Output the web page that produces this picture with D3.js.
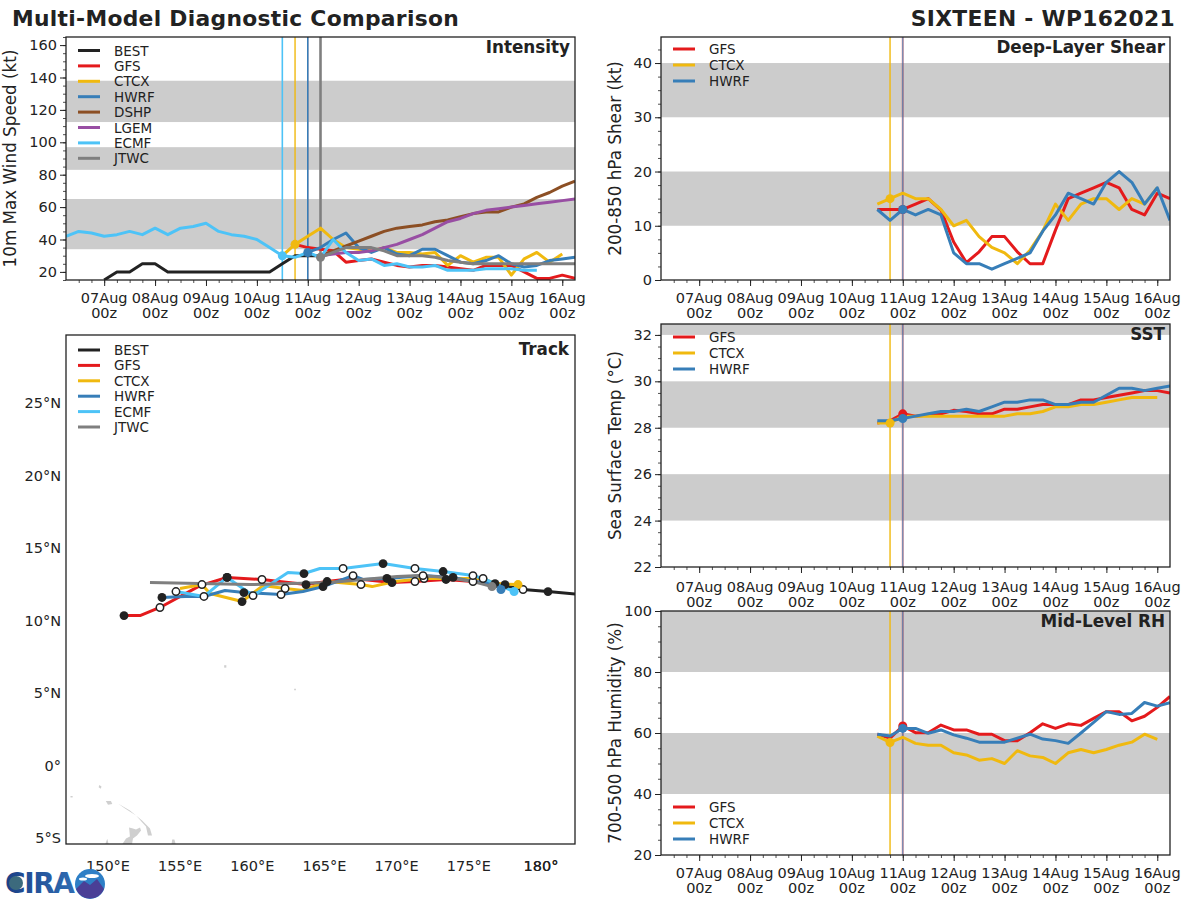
<!DOCTYPE html>
<html><head><meta charset="utf-8">
<script src="https://cdn.jsdelivr.net/npm/d3@7"></script>
<style>html,body{margin:0;padding:0;background:#fff}svg{display:block}text{font-family:"DejaVu Sans",sans-serif;fill:#222}</style>
</head><body><svg id="c" width="1200" height="900"></svg>
<script>
// time index: 6-hourly steps, 0 = 06 Aug 06z
const dayTicks = [3,7,11,15,19,23,27,31,35,39];
const dayLabels = ["07Aug","08Aug","09Aug","10Aug","11Aug","12Aug","13Aug","14Aug","15Aug","16Aug"];

const bestWind = [15,20,20,25,25,20,20,20,20,20,20,20,20,20,25,30,30,30];      // from idx 3
const gfsWind  = [37,35,34,33,26,27,28,26,24,23,24,24,23,22,21,24,24,24,20,16,16,18,16]; // idx 18
const ctcxWind = [30,37,42,47,40,35,34,33,35,32,32,31,32,24,30,26,29,29,18,28,32,26,31]; // idx 17
const hwrfWind = [32,35,40,44,35,32,35,31,30,34,34,30,26,25,27,30,25,23,24,27,28,29];    // idx 19
const dshpWind = [30,33,36,39,42,45,47,48,49,51,52,54,56,57,57,60,62,66,69,73,76];       // idx 20
const lgemWind = [30,31,32,32,33,35,37,40,43,47,51,53,56,58,59,60,61,62,63,64,65];       // idx 20
const ecmfWind = [42,45,44,42,43,45,43,47,43,47,48,50,45,43,42,40,35,30,29,32,29,40,32,27,28,24,25,23,23,24,21,21,21,22,22,22,21,21]; // idx 0
const jtwcWind = [29,32,35,35,35,33,30,30,30,29,27,26,25,25,25,25,25,25,25,25,25];       // idx 20

const gfsShear  = [13,13,13,14,15,12.9,7,3.2,5.2,8,8,5.2,3,3,9.2,15,16,17,18,17,13,12,16,15];
const ctcxShear = [14,15,16,15,15,13,10,11,8,6,5,3,5.5,9,14,11,14,15,15,13,15,14,17];
const hwrfShear = [13,11,13,12,13,12,5,3,3,2,3,4,5,9,12,16,15,14,18,20,18,14,17,11];

const gfsSst  = [28.2,28.3,28.6,28.5,28.55,28.6,28.75,28.7,28.6,28.6,28.8,28.8,28.9,29,29,29,29.2,29.2,29.3,29.4,29.5,29.6,29.6,29.5];
const ctcxSst = [28.2,28.2,28.5,28.5,28.5,28.5,28.5,28.5,28.5,28.5,28.5,28.6,28.6,28.7,28.9,28.9,29,29,29.1,29.2,29.3,29.3,29.3];
const hwrfSst = [28.3,28.3,28.4,28.5,28.6,28.7,28.7,28.8,28.7,28.9,29.1,29.1,29.2,29.2,29,29,29.1,29.1,29.4,29.7,29.7,29.6,29.7,29.8];

const gfsRh  = [59.6,58.3,62.3,60.1,60.1,62.6,61,61,59.6,59.6,57.5,57.5,60.1,63,61.5,63,62.5,64.8,67,67,64,65.5,68.4,72];
const ctcxRh = [59,56.9,58.6,56.6,56,56,53.5,52.8,51.1,51.6,50,54.2,52.5,52,50,53.5,54.6,53.5,54.6,56,57,59.6,57.9];
const hwrfRh = [59.6,59,61.5,61.5,59.9,61,59.4,58.3,57,57,57,58.3,59.6,58,57.5,56.6,60,63.5,67,66.1,66.4,70,68.8,69.9];

// track: lon, lat, dot kind (0 none, 1 black, 2 white)
const bestLon=[176.82,177.51,178.76,180.49,184.1], bestLat=[12.48,12.41,12.14,12.0,11.66], bestDot=[0,0,2,1,0];
const gfsLon=[177.51,176.47,175.29,173.42,171.27,169.68,166.98,165.18,163.72,160.67,158.25,156.38,153.6,152.22,151.11];
const gfsLat=[12.48,12.55,12.69,12.83,12.69,12.62,12.9,12.69,12.48,12.83,12.97,12.41,10.9,10.34,10.34];
const gfsDot=[1,0,0,1,2,1,0,0,1,2,1,0,2,0,1];
const ctcxLon=[178.41,176.82,175.99,173.7,171.9,169.89,168.3,167.53,165.18,163.51,162.27,160.74,159.29,157.07,156.51,154.99];
const ctcxLat=[12.48,12.55,12.9,12.9,12.9,12.69,12.34,12.48,12.69,12.07,12.21,12.41,11.31,11.86,12.48,12.21];
const ctcxDot=[0,1,2,0,2,0,0,2,1,0,2,0,1,0,2,0];
const hwrfLon=[177.23,176.82,175.29,173.91,171.83,169.33,167.67,166.98,164.9,163.51,161.99,159.42,158.11,156.65,155.34,153.74];
const hwrfLat=[12.14,12.55,12.69,12.97,13.1,12.9,12.83,13.1,12.34,12.0,11.79,11.93,12.07,11.66,11.66,11.59];
const hwrfDot=[0,0,2,1,2,1,0,2,1,0,2,1,0,2,0,1];
const ecmfLon=[178.14,175.99,175.29,173.22,171.27,169.06,166.29,164.69,163.58,162.47,160.05,158.25,156.65,154.71];
const ecmfLat=[12.0,12.9,13.1,13.38,13.59,13.93,13.59,13.59,13.24,13.31,11.72,12.97,11.66,12.0];
const ecmfDot=[0,0,2,1,2,1,2,0,1,0,2,1,0,2];
const jtwcLon=[176.61,175.29,173.49,171.62,170.03,167.67,165.38,159.84,152.91];
const jtwcLat=[12.34,12.69,12.97,13.1,13.03,12.83,12.62,12.48,12.62];

const land=[
 [[150.69,-2.62],[151.52,-3.10],[152.36,-3.79],[152.91,-4.34],[153.05,-4.83],[152.77,-4.83],[152.63,-4.21],[151.94,-3.45],[151.18,-2.97]],
 [[150.97,-5.45],[151.25,-5.03],[151.52,-4.90],[151.46,-4.28],[151.73,-4.34],[151.94,-4.41],[152.22,-4.28],[152.29,-4.48],[152.01,-4.83],[151.73,-5.03],[151.66,-5.45]],
 [[149.85,-2.45],[150.2,-2.45],[150.3,-2.65],[150.0,-2.7]],
 [[149.4,-1.35],[149.55,-1.45],[149.5,-1.6],[149.35,-1.5]],
 [[154.4,-5.45],[154.45,-5.1],[154.6,-5.1],[154.7,-5.45]],
 [[149.8,-5.45],[149.95,-5.05],[150.05,-5.45]],
 [[158.05,6.75],[158.2,6.75],[158.2,6.92],[158.05,6.92]],
 [[162.9,5.2],[163.02,5.2],[163.02,5.3],[162.9,5.3]],
 [[147.4,-2.1],[147.55,-2.1],[147.55,-2.2],[147.4,-2.2]]
];

const colors={BEST:"#222222",GFS:"#e41a1c",CTCX:"#f0b90f",HWRF:"#377eb8",DSHP:"#8c4f24",LGEM:"#984ea3",ECMF:"#4dc3f7",JTWC:"#7f7f7f"};
const svg=d3.select("#c");
const gray="#cccccc";
const TICK=14.5;

function ts(a,start){return a.map((v,i)=>({t:start+i,v}));}

function panel(o){
  const x=d3.scaleLinear().domain([0,40]).range([o.x0,o.x1]);
  const y=d3.scaleLinear().domain(o.dom).range([o.y1,o.y0]);
  const g=svg.append("g");
  const id="clip"+o.id;
  svg.append("clipPath").attr("id",id).append("rect").attr("x",o.x0).attr("y",o.y0).attr("width",o.x1-o.x0).attr("height",o.y1-o.y0);
  g.selectAll(".band").data(o.bands).join("rect")
    .attr("x",o.x0).attr("width",o.x1-o.x0)
    .attr("y",d=>y(Math.min(d[1],o.dom[1]))).attr("height",d=>y(d[0])-y(Math.min(d[1],o.dom[1]))).attr("fill",gray);
  const p=g.append("g").attr("clip-path",`url(#${id})`);
  o.vlines.forEach(v=>{
    p.append("line").attr("x1",x(v.t)).attr("x2",x(v.t)).attr("y1",o.y0).attr("y2",o.y1)
      .attr("stroke",colors[v.k]).attr("stroke-width",v.w).attr("stroke-opacity",v.a||1);
  });
  const line=d3.line().x(d=>x(d.t)).y(d=>y(d.v));
  o.series.forEach(s=>{
    p.append("path").datum(ts(s.a,s.s)).attr("d",line).attr("fill","none")
      .attr("stroke",colors[s.k]).attr("stroke-width",s.w||3).attr("stroke-linejoin","round");
  });
  o.markers.forEach(m=>{
    p.append("circle").attr("cx",x(m.t)).attr("cy",y(m.v)).attr("r",4.5).attr("fill",colors[m.k]);
  });
  // axes
  const ax=g.append("g").attr("transform",`translate(0,${o.y1})`)
    .call(d3.axisBottom(x).tickValues(d3.range(1,40)).tickSize(3).tickFormat(""));
  ax.select(".domain").remove();
  ax.selectAll("line").attr("stroke","#222").attr("stroke-width",0.8);
  const ax2=g.append("g").attr("transform",`translate(0,${o.y1})`)
    .call(d3.axisBottom(x).tickValues(dayTicks).tickSize(6).tickFormat(""));
  ax2.select(".domain").remove();
  ax2.selectAll("line").attr("stroke","#222").attr("stroke-width",1);
  const off=o.labY||23;
  const lab=g.selectAll(".dl").data(dayTicks).join("g").attr("transform",d=>`translate(${x(d)},${o.y1})`);
  lab.append("text").attr("y",off).attr("text-anchor","middle").attr("font-size",TICK).text((d,i)=>dayLabels[i]);
  lab.append("text").attr("y",off+15).attr("text-anchor","middle").attr("font-size",TICK).text("00z");

  const ay=g.append("g").attr("transform",`translate(${o.x0},0)`)
    .call(d3.axisLeft(y).tickValues(d3.range(o.minor[0],o.dom[1]+1e-6,o.minor[1])).tickSize(3).tickFormat(""));
  ay.select(".domain").remove();
  ay.selectAll("line").attr("stroke","#222").attr("stroke-width",0.8);
  const ay2=g.append("g").attr("transform",`translate(${o.x0},0)`)
    .call(d3.axisLeft(y).tickValues(o.ticks).tickSize(6).tickPadding(3));
  ay2.select(".domain").remove();
  ay2.selectAll("line").attr("stroke","#222").attr("stroke-width",1);
  ay2.selectAll("text").attr("font-size",TICK).attr("font-family","DejaVu Sans").attr("fill","#222");

  g.append("rect").attr("x",o.x0).attr("y",o.y0).attr("width",o.x1-o.x0).attr("height",o.y1-o.y0)
    .attr("fill","none").attr("stroke","#222").attr("stroke-width",1.3);
  g.append("text").attr("x",o.x1-5).attr("y",o.y0+16).attr("text-anchor","end").attr("font-weight","bold").attr("font-size",16.8).text(o.title);
  g.append("text").attr("transform",`translate(${o.x0-o.labOff},${(o.y0+o.y1)/2}) rotate(-90)`).attr("text-anchor","middle").attr("font-size",16.8).text(o.label);
  legend(g,o.legend,o.x0+12,o.legY,o.legStep);
}
function legend(g,keys,x,y,step){
  keys.forEach((k,i)=>{
    const yy=y+i*step;
    g.append("line").attr("x1",x).attr("x2",x+22).attr("y1",yy-1).attr("y2",yy-1).attr("stroke",colors[k]).attr("stroke-width",3);
    g.append("text").attr("x",x+36).attr("y",yy+4).attr("font-size",13.5).text(k);
  });
}

panel({id:"a",x0:66,x1:575,y0:37,y1:280,dom:[15,165],ticks:d3.range(20,161,20),minor:[15,5],
  bands:[[34,65],[83,97],[112.5,138]],title:"Intensity",label:"10m Max Wind Speed (kt)",labOff:50,
  legend:["BEST","GFS","CTCX","HWRF","DSHP","LGEM","ECMF","JTWC"],legY:51.5,legStep:15.4,
  vlines:[{t:17,k:"ECMF",w:1.6},{t:18,k:"CTCX",w:1.4},{t:19,k:"GFS",w:1.6,a:.3},{t:19,k:"HWRF",w:1.6},{t:20,k:"JTWC",w:2.6}],
  series:[{k:"BEST",a:bestWind,s:3},{k:"GFS",a:gfsWind,s:18},{k:"CTCX",a:ctcxWind,s:17},{k:"HWRF",a:hwrfWind,s:19},{k:"DSHP",a:dshpWind,s:20},{k:"LGEM",a:lgemWind,s:20},{k:"ECMF",a:ecmfWind,s:0},{k:"JTWC",a:jtwcWind,s:20}],
  markers:[{t:18,v:37,k:"CTCX"},{t:19,v:32,k:"HWRF"},{t:17,v:30,k:"ECMF"},{t:20,v:29,k:"JTWC"}]});

const rightV=[{t:18,k:"CTCX",w:1.4},{t:19,k:"GFS",w:2.2,a:.4},{t:19,k:"HWRF",w:1.2,a:.75}];
const rightLeg=["GFS","CTCX","HWRF"];
function rightSeries(a,b,c){return [{k:"GFS",a:a,s:17},{k:"CTCX",a:b,s:17},{k:"HWRF",a:c,s:17}];}

panel({id:"b",x0:661,x1:1170,y0:37,y1:280,dom:[0,44.8],ticks:d3.range(0,41,10),minor:[0,2.5],
  bands:[[10,20],[30,40]],title:"Deep-Layer Shear",label:"200-850 hPa Shear (kt)",labOff:40,
  legend:rightLeg,legY:50,legStep:16,vlines:rightV,series:rightSeries(gfsShear,ctcxShear,hwrfShear),
  markers:[{t:19,v:gfsShear[2],k:"GFS"},{t:18,v:ctcxShear[1],k:"CTCX"},{t:19,v:hwrfShear[2],k:"HWRF"}]});

panel({id:"c",x0:661,x1:1170,y0:324,y1:567,dom:[22,32.47],ticks:d3.range(22,33,2),minor:[22,0.5],labY:25,
  bands:[[24,26],[28,30],[32,33]],title:"SST",label:"Sea Surface Temp (°C)",labOff:40,
  legend:rightLeg,legY:338,legStep:16,vlines:rightV,series:rightSeries(gfsSst,ctcxSst,hwrfSst),
  markers:[{t:19,v:gfsSst[2],k:"GFS"},{t:18,v:ctcxSst[1],k:"CTCX"},{t:19,v:hwrfSst[2],k:"HWRF"}]});

panel({id:"d",x0:661,x1:1170,y0:611,y1:855,dom:[20,100],ticks:d3.range(20,101,20),minor:[20,5],
  bands:[[40,60],[80,100]],title:"Mid-Level RH",label:"700-500 hPa Humidity (%)",labOff:40,
  legend:rightLeg,legY:808,legStep:16,vlines:rightV,series:rightSeries(gfsRh,ctcxRh,hwrfRh),
  markers:[{t:19,v:gfsRh[2],k:"GFS"},{t:18,v:ctcxRh[1],k:"CTCX"},{t:19,v:hwrfRh[2],k:"HWRF"}]});

// Track
(function(){
  const x0=66,x1=575,y0=335,y1=844;
  const x=d3.scaleLinear().domain([147.09,182.36]).range([x0,x1]);
  const y=d3.scaleLinear().domain([-5.41,29.69]).range([y1,y0]);
  const g=svg.append("g");
  svg.append("clipPath").attr("id","clipT").append("rect").attr("x",x0).attr("y",y0).attr("width",x1-x0).attr("height",y1-y0);
  const p=g.append("g").attr("clip-path","url(#clipT)");
  p.selectAll(".land").data(land).join("path").attr("fill","#cfcfcf")
    .attr("d",d=>"M"+d.map(q=>x(q[0])+","+y(q[1])).join("L")+"Z");
  const tr=[
    {k:"BEST",lon:bestLon,lat:bestLat,dot:bestDot,mark:false},
    {k:"GFS",lon:gfsLon,lat:gfsLat,dot:gfsDot,mark:false},
    {k:"CTCX",lon:ctcxLon,lat:ctcxLat,dot:ctcxDot,mark:true},
    {k:"HWRF",lon:hwrfLon,lat:hwrfLat,dot:hwrfDot,mark:true},
    {k:"ECMF",lon:ecmfLon,lat:ecmfLat,dot:ecmfDot,mark:true},
    {k:"JTWC",lon:jtwcLon,lat:jtwcLat,dot:jtwcLon.map(()=>0),mark:true}
  ];
  const line=d3.line().x(d=>x(d[0])).y(d=>y(d[1]));
  tr.forEach(s=>{
    p.append("path").attr("d",line(s.lon.map((v,i)=>[v,s.lat[i]]))).attr("fill","none")
      .attr("stroke",colors[s.k]).attr("stroke-width",3).attr("stroke-linejoin","round");
  });
  tr.forEach(s=>{
    s.lon.forEach((v,i)=>{
      if(s.dot[i]===1) p.append("circle").attr("cx",x(v)).attr("cy",y(s.lat[i])).attr("r",4.4).attr("fill","#222");
      if(s.dot[i]===2) p.append("circle").attr("cx",x(v)).attr("cy",y(s.lat[i])).attr("r",3.7).attr("fill","#fff").attr("stroke","#222").attr("stroke-width",1.5);
    });
    if(s.mark) p.append("circle").attr("cx",x(s.lon[0])).attr("cy",y(s.lat[0])).attr("r",4.5).attr("fill",colors[s.k]);
  });
  g.append("rect").attr("x",x0).attr("y",y0).attr("width",x1-x0).attr("height",y1-y0).attr("fill","none").attr("stroke","#222").attr("stroke-width",1.3);
  const lonT=[150,155,160,165,170,175,180,180];
  const lonL=["150°E","155°E","160°E","165°E","170°E","175°E","180°","180°"];
  g.selectAll(".lx").data(lonT).join("text").attr("x",d=>x(d)).attr("y",y1+27).attr("text-anchor","middle").attr("font-size",TICK).text((d,i)=>lonL[i]);
  const latT=[-5,0,5,10,15,20,25];
  const latL=["5°S","0°","5°N","10°N","15°N","20°N","25°N"];
  g.selectAll(".ly").data(latT).join("text").attr("x",x0-5).attr("y",d=>y(d)+5).attr("text-anchor","end").attr("font-size",TICK).text((d,i)=>latL[i]);
  g.append("text").attr("x",x1-6).attr("y",y0+20).attr("text-anchor","end").attr("font-weight","bold").attr("font-size",16.8).text("Track");
  legend(g,["BEST","GFS","CTCX","HWRF","ECMF","JTWC"],x0+12,351,15.4);
})();

// titles
svg.append("text").attr("x",12).attr("y",26).attr("font-weight","bold").attr("font-size",21.8).attr("letter-spacing",0.3).text("Multi-Model Diagnostic Comparison");
svg.append("text").attr("x",1175).attr("y",26).attr("text-anchor","end").attr("font-weight","bold").attr("font-size",21.8).attr("letter-spacing",0.3).text("SIXTEEN - WP162021");

// logo
const lg=svg.append("g");
const grad=svg.append("defs").append("linearGradient").attr("id","lgrad").attr("x1",0).attr("x2",1);
grad.append("stop").attr("offset",0).attr("stop-color","#1b3f86");
grad.append("stop").attr("offset",1).attr("stop-color","#2f6db3");
lg.append("text").attr("x",5).attr("y",893).attr("font-family","Liberation Sans").attr("font-weight","bold").attr("font-size",28).attr("textLength",70).attr("style","fill:url(#lgrad)").text("CIRA");
lg.append("circle").attr("cx",16).attr("cy",883).attr("r",7).attr("fill","#3c6a7d");
lg.append("circle").attr("cx",90).attr("cy",884).attr("r",15).attr("fill","#2e7fc6");
lg.append("path").attr("d","M76,889 L84,881 L90,885 L97,879 L104,889 A15,15 0 0 1 76,889 Z").attr("fill","#4a3f96");
lg.append("ellipse").attr("cx",92).attr("cy",876).attr("rx",7).attr("ry",2).attr("fill","#fff");
lg.append("ellipse").attr("cx",83).attr("cy",879).attr("rx",4).attr("ry",1.5).attr("fill","#fff");
</script></body></html>
